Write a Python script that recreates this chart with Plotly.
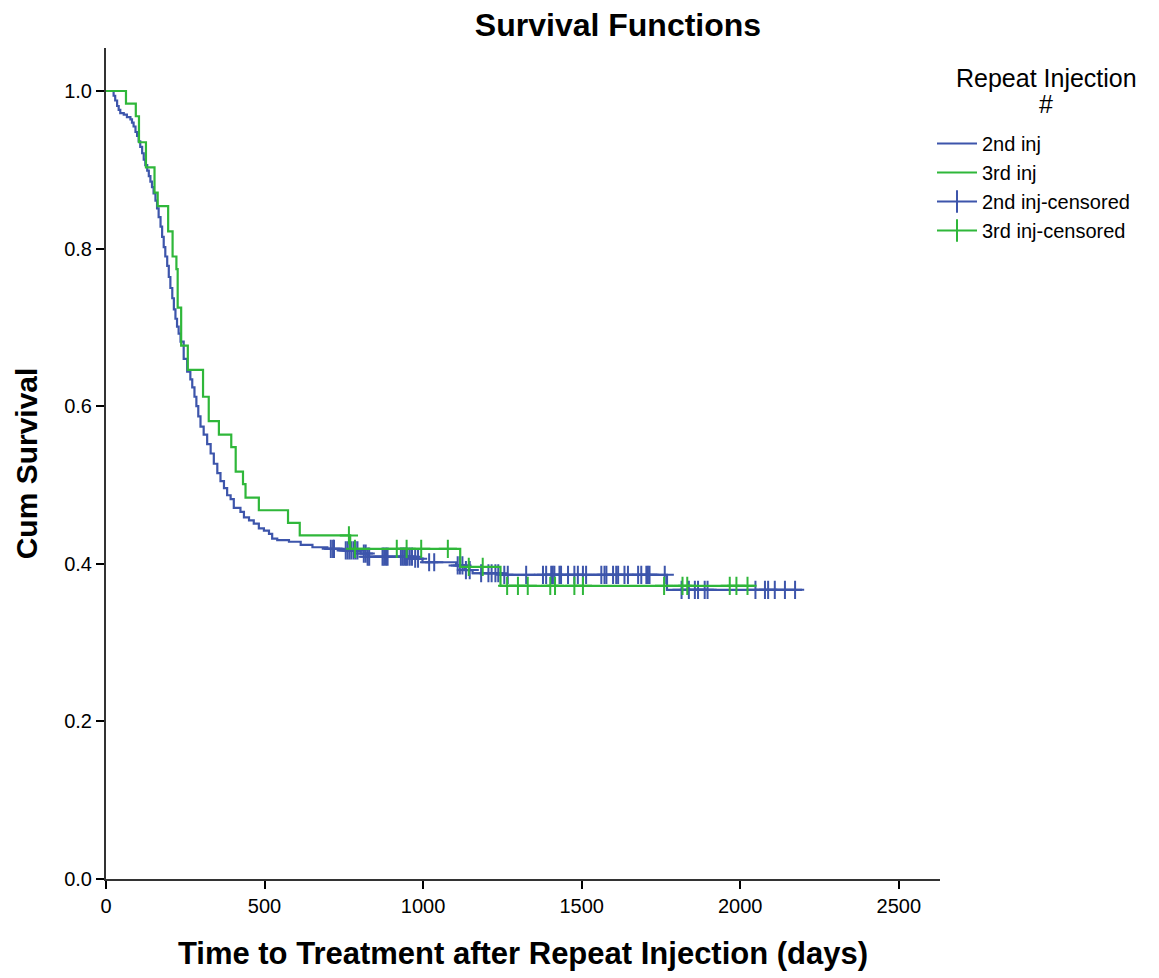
import plotly.graph_objects as go

# ---------------- data ----------------
# 2nd injection: event times (days) and survival after each drop
b_times = [24, 29, 35, 40, 45, 56, 66, 77, 82, 87, 93, 98, 103, 108, 114, 119, 124,
           130, 135, 140, 145, 150, 156, 161, 166, 172, 177, 182, 187, 193, 198, 203,
           209, 214, 219, 224, 229, 235, 245, 256, 266, 272, 279, 285, 291, 298, 308,
           319, 330, 340, 351, 361, 372, 382, 393, 403, 424, 435, 451, 466, 482, 498,
           514, 524, 540, 577, 614, 651, 698, 750, 803, 825, 971, 998, 1104, 1130,
           1156, 1246, 1769]
b_surv = [0.994, 0.988, 0.981, 0.976, 0.972, 0.970, 0.967, 0.964, 0.960, 0.955, 0.948,
          0.943, 0.936, 0.929, 0.921, 0.913, 0.906, 0.899, 0.892, 0.885, 0.878, 0.870,
          0.861, 0.851, 0.840, 0.828, 0.815, 0.802, 0.790, 0.778, 0.764, 0.750, 0.737,
          0.723, 0.711, 0.701, 0.692, 0.682, 0.660, 0.644, 0.634, 0.624, 0.612, 0.600,
          0.587, 0.574, 0.564, 0.552, 0.540, 0.527, 0.515, 0.505, 0.496, 0.487, 0.482,
          0.471, 0.466, 0.459, 0.455, 0.451, 0.445, 0.442, 0.438, 0.432, 0.430, 0.428,
          0.424, 0.421, 0.419, 0.417, 0.413, 0.409, 0.4065, 0.402, 0.398, 0.392, 0.388,
          0.386, 0.367]
b_censor = [709, 716, 719, 756, 762, 768, 774, 781, 787, 793, 813, 819, 825, 830, 872,
            877, 883, 888, 930, 936, 941, 946, 951, 958, 965, 975, 984, 1019, 1035, 1109,
            1116, 1124, 1135, 1147, 1183, 1206, 1216, 1228, 1237, 1256, 1267, 1325, 1378,
            1388, 1404, 1409, 1414, 1430, 1435, 1457, 1477, 1488, 1504, 1514, 1562, 1572,
            1578, 1599, 1609, 1615, 1635, 1646, 1678, 1688, 1704, 1709, 1714, 1762, 1815,
            1838, 1857, 1867, 1888, 1897, 2048, 2078, 2088, 2109, 2141, 2173]
b_end = 2195

# 3rd injection
g_times = [63, 94, 104, 126, 153, 163, 196, 210, 222, 226, 237, 258, 306, 324, 356, 395,
           409, 432, 440, 482, 574, 611, 770, 1117, 1244]
g_surv = [0.984, 0.968, 0.935, 0.903, 0.871, 0.854, 0.822, 0.790, 0.774, 0.725, 0.677,
          0.646, 0.612, 0.581, 0.564, 0.548, 0.517, 0.501, 0.484, 0.468, 0.452, 0.436,
          0.419, 0.396, 0.372]
g_censor = [766, 785, 917, 948, 994, 1078, 1144, 1188, 1265, 1299, 1330, 1401, 1416,
            1477, 1504, 1760, 1818, 1833, 1967, 1988, 2023]
g_end = 2044

x_ticks = [0, 500, 1000, 1500, 2000, 2500]
y_ticks = [0.0, 0.2, 0.4, 0.6, 0.8, 1.0]

BLUE = "#3d55ab"
GREEN = "#2fb73a"
FONT = "Liberation Sans, Arial, sans-serif"

W, H = 1159, 978
ML, MR, MT, MB = 106, 219, 48, 99


def level_at(times, surv, t):
    s = 1.0
    for tt, v in zip(times, surv):
        if tt <= t:
            s = v
        else:
            break
    return s


fig = go.Figure()

for times, surv, end, cens, col in [
    (b_times, b_surv, b_end, b_censor, BLUE),
    (g_times, g_surv, g_end, g_censor, GREEN),
]:
    fig.add_trace(go.Scatter(
        x=[0] + times + [end], y=[1.0] + surv + [surv[-1]],
        mode="lines", line=dict(color=col, width=2.2, shape="hv"),
        showlegend=False, hoverinfo="skip"))
    fig.add_trace(go.Scatter(
        x=cens, y=[level_at(times, surv, t) for t in cens],
        mode="markers",
        marker=dict(symbol="cross-thin", size=13, line=dict(color=col, width=2)),
        showlegend=False, hoverinfo="skip"))

# legend entries
for col, name, censored in [
    (BLUE, "2nd inj", False), (GREEN, "3rd inj", False),
    (BLUE, "2nd inj-censored", True), (GREEN, "3rd inj-censored", True)]:
    if censored:
        fig.add_trace(go.Scatter(
            x=[None], y=[None], mode="lines+markers", name=name,
            line=dict(color=col, width=2),
            marker=dict(symbol="line-ns", size=16, line=dict(color=col, width=2))))
    else:
        fig.add_trace(go.Scatter(
            x=[None], y=[None], mode="lines", name=name,
            line=dict(color=col, width=2)))

plot_w = W - ML - MR
plot_h = H - MT - MB


def py(pixel_y):
    """convert a pixel row (from top) to paper y"""
    return (H - MB - pixel_y) / plot_h


def px(pixel_x):
    return (pixel_x - ML) / plot_w


fig.update_layout(
    width=W, height=H,
    margin=dict(l=ML, r=MR, t=MT, b=MB),
    paper_bgcolor="white", plot_bgcolor="white",
    font=dict(family=FONT, color="black"),
    title=dict(text="<b>Survival Functions</b>", x=618 / W, xref="container",
               xanchor="center", y=1 - 25 / H, yref="container", yanchor="middle",
               font=dict(size=32, family=FONT, color="black")),
    xaxis=dict(range=[0, 2630], tickvals=x_ticks, ticktext=[str(v) for v in x_ticks],
               showgrid=False, zeroline=False, showline=True, linecolor="#333",
               linewidth=2, ticks="outside", ticklen=8, tickwidth=2, tickcolor="black",
               tickfont=dict(size=20, family=FONT),
               title=dict(text="<b>Time to Treatment after Repeat Injection (days)</b>",
                          font=dict(size=31, family=FONT), standoff=26)),
    yaxis=dict(range=[0, 1.0546], tickvals=y_ticks,
               ticktext=["%.1f" % v for v in y_ticks],
               showgrid=False, zeroline=False, showline=True, linecolor="#333",
               linewidth=2, ticks="outside", ticklen=8, tickwidth=2, tickcolor="black",
               tickfont=dict(size=20, family=FONT),
               title=dict(text="<b>Cum Survival</b>", font=dict(size=30, family=FONT),
                          standoff=18)),
    legend=dict(x=px(932), xanchor="left", y=py(124),
                yanchor="top", font=dict(size=20, family=FONT),
                itemwidth=40, bgcolor="rgba(0,0,0,0)"),
    annotations=[
        dict(text="Repeat Injection", xref="paper", yref="paper",
             x=px(1046), y=py(78), xanchor="center", yanchor="middle",
             showarrow=False, font=dict(size=25, family=FONT, color="black")),
        dict(text="#", xref="paper", yref="paper",
             x=px(1046), y=py(104), xanchor="center", yanchor="middle",
             showarrow=False, font=dict(size=25, family=FONT, color="black")),
    ],
)

fig.write_html("out.html", config={"displayModeBar": False},
               post_script="document.body.style.margin='0';")
